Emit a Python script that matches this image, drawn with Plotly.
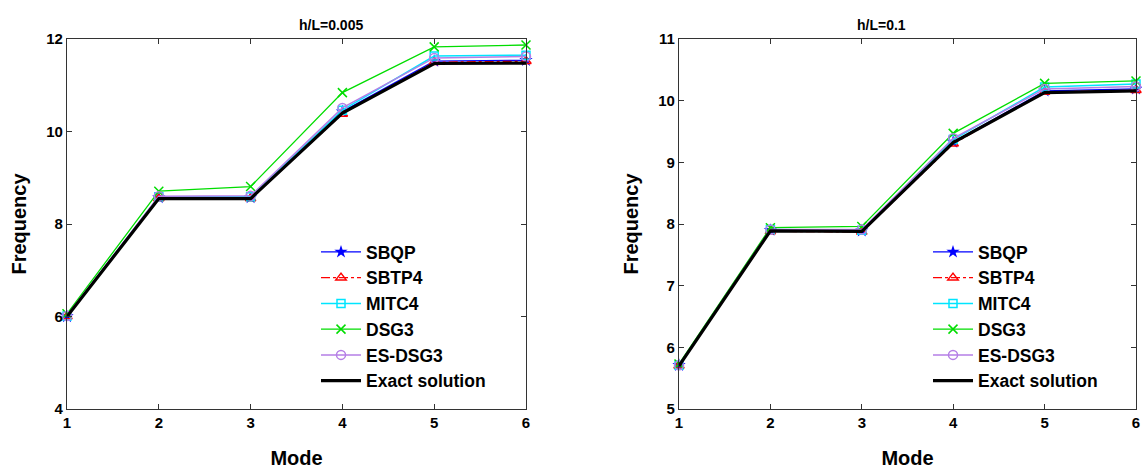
import plotly.graph_objects as go

modes = [1, 2, 3, 4, 5, 6]

# h/L = 0.005
left_SBQP = [6.00, 8.57, 8.57, 10.43, 11.52, 11.54]
left_SBTP4 = [6.00, 8.55, 8.55, 10.38, 11.50, 11.52]
left_MITC4 = [6.01, 8.59, 8.59, 10.46, 11.63, 11.65]
left_DSG3 = [6.06, 8.71, 8.81, 10.84, 11.83, 11.87]
left_ESDSG3 = [6.01, 8.60, 8.61, 10.51, 11.59, 11.62]
left_Exact = [6.00, 8.55, 8.55, 10.40, 11.47, 11.48]

# h/L = 0.1
right_SBQP = [5.71, 7.90, 7.89, 9.33, 10.16, 10.19]
right_SBTP4 = [5.70, 7.88, 7.87, 9.30, 10.14, 10.17]
right_MITC4 = [5.71, 7.91, 7.90, 9.37, 10.22, 10.27]
right_DSG3 = [5.73, 7.94, 7.96, 9.47, 10.28, 10.32]
right_ESDSG3 = [5.71, 7.91, 7.91, 9.39, 10.19, 10.23]
right_Exact = [5.70, 7.89, 7.88, 9.32, 10.13, 10.16]

names = ["SBQP", "SBTP4", "MITC4", "DSG3", "ES-DSG3", "Exact solution"]
left_titles = "h/L=0.005"
right_titles = "h/L=0.1"
left_yticks = [4, 6, 8, 10, 12]
right_yticks = [5, 6, 7, 8, 9, 10, 11]

styles = [
    dict(line=dict(color="#0000ff", width=1.2, dash="solid"),
         marker=dict(symbol="star", size=10, color="#0000ff")),
    dict(line=dict(color="#ff0000", width=1.2, dash="dashdot"),
         marker=dict(symbol="triangle-up-open", size=9, color="#ff0000", line=dict(width=1.5))),
    dict(line=dict(color="#00e5ff", width=1.5, dash="solid"),
         marker=dict(symbol="square-open", size=8, color="#00e5ff", line=dict(width=1.5))),
    dict(line=dict(color="#00dd00", width=1.3, dash="solid"),
         marker=dict(symbol="x-thin-open", size=9, color="#00dd00", line=dict(width=1.5, color="#00dd00"))),
    dict(line=dict(color="#b57ee6", width=1.5, dash="solid"),
         marker=dict(symbol="circle-open", size=9, color="#b57ee6", line=dict(width=1.5))),
    dict(line=dict(color="#000000", width=3.2, dash="solid"),
         marker=dict(size=1, opacity=0)),
]

fig = go.Figure()

left_series = [left_SBQP, left_SBTP4, left_MITC4, left_DSG3, left_ESDSG3, left_Exact]
right_series = [right_SBQP, right_SBTP4, right_MITC4, right_DSG3, right_ESDSG3, right_Exact]

for name, ys, st in zip(names, left_series, styles):
    mode = "lines" if name == "Exact solution" else "lines+markers"
    fig.add_trace(go.Scatter(x=modes, y=ys, name=name, mode=mode, xaxis="x", yaxis="y",
                             legend="legend", line=st["line"], marker=st["marker"],
                             cliponaxis=False))
for name, ys, st in zip(names, right_series, styles):
    mode = "lines" if name == "Exact solution" else "lines+markers"
    fig.add_trace(go.Scatter(x=modes, y=ys, name=name, mode=mode, xaxis="x2", yaxis="y2",
                             legend="legend2", line=st["line"], marker=st["marker"],
                             cliponaxis=False))

font_family = "Liberation Sans, Arial, sans-serif"
tickfont = dict(family=font_family, size=15, color="black", weight="bold")
labelfont = dict(family=font_family, size=20, color="black", weight="bold")
legendfont = dict(family=font_family, size=17.5, color="black", weight="bold")

common_axis = dict(showline=True, linecolor="#333333", linewidth=1.3, mirror="ticks",
                   ticks="inside", ticklen=5, tickwidth=1.2, tickcolor="#333333",
                   showgrid=False, zeroline=False, tickfont=tickfont, automargin=False)

lx0, lx1 = 67 / 1142, 526 / 1142
rx0, rx1 = 679 / 1142, 1136 / 1142
y0, y1 = 1 - 409 / 470, 1 - 39 / 470

fig.update_layout(
    width=1142, height=470,
    margin=dict(l=0, r=0, t=0, b=0),
    paper_bgcolor="white", plot_bgcolor="white",
    font=dict(family=font_family, color="black"),
    xaxis=dict(domain=[lx0, lx1], range=[1, 6], tickvals=modes, anchor="y",
               title=dict(text="Mode", font=labelfont, standoff=20), **common_axis),
    yaxis=dict(domain=[y0, y1], range=[4, 12], tickvals=left_yticks, anchor="x",
               title=dict(text="Frequency", font=labelfont, standoff=14), **common_axis),
    xaxis2=dict(domain=[rx0, rx1], range=[1, 6], tickvals=modes, anchor="y2",
                title=dict(text="Mode", font=labelfont, standoff=20), **common_axis),
    yaxis2=dict(domain=[y0, y1], range=[5, 11], tickvals=right_yticks, anchor="x2",
                title=dict(text="Frequency", font=labelfont, standoff=14), **common_axis),
    legend=dict(x=316 / 1142, y=1 - 234 / 470, xanchor="left", yanchor="top",
                bgcolor="rgba(0,0,0,0)", borderwidth=0, font=legendfont,
                itemwidth=40, tracegroupgap=0),
    legend2=dict(x=928 / 1142, y=1 - 234 / 470, xanchor="left", yanchor="top",
                 bgcolor="rgba(0,0,0,0)", borderwidth=0, font=legendfont,
                 itemwidth=40, tracegroupgap=0),
    annotations=[
        dict(text=left_titles, x=(lx0 + lx1) / 2, y=1 - 15 / 470, xref="paper", yref="paper",
             showarrow=False, font=dict(family=font_family, size=14, color="black", weight="bold")),
        dict(text=right_titles, x=(rx0 + rx1) / 2, y=1 - 15 / 470, xref="paper", yref="paper",
             showarrow=False, font=dict(family=font_family, size=14, color="black", weight="bold")),
    ],
    showlegend=True,
)

fig.write_html("out.html")
